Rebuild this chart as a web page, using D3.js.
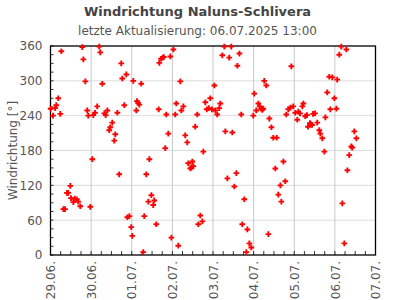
<!DOCTYPE html>
<html><head><meta charset="utf-8">
<script src="https://cdn.jsdelivr.net/npm/d3@7"></script>
<style>body{margin:0;background:#fff}svg{display:block;font-family:"DejaVu Sans",sans-serif}</style>
</head><body><svg id="c" width="395" height="300"></svg>
<script>
const title = "Windrichtung Naluns-Schlivera";
const subtitle = "letzte Aktualisierung: 06.07.2025 13:00";
const yLabel = "Windrichtung [°]";
const startDate = "2025-06-29T00:00";
const endDate = "2025-07-07T00:00";
const yTicks = [0, 60, 120, 180, 240, 300, 360];
// hours since 29.06. 00:00
const hours = [0.1,1.5,2.8,3.4,4.6,5.8,6.4,7.6,8.6,9.7,10.5,11.7,12.1,13.5,14.3,15.5,16.4,17.6,18.8,19.4,20.6,21.7,22.3,23.5,24.7,25.3,26.3,27.6,28.8,29.4,30.6,31.8,32.6,33.6,34.7,35.3,36.5,37.7,38.3,39.5,40.6,41.8,42.4,43.6,44.8,45.4,46.6,47.7,48.3,48.9,
50.7,51.1,51.7,52.5,53.6,54.8,55.4,56.6,57.8,58.4,59.6,60.7,61.3,62.5,63.9,64.3,65.3,66.3,66.9,67.8,68.4,69.6,70.8,71.4,72.6,73.7,74.3,75.5,76.7,77.3,78.5,79.6,80.8,81.4,82.6,83.2,83.8,84.4,85.5,86.7,87.3,88.5,89.7,90.3,91.5,92.3,93.5,94.4,95.4,96.8,97.4,98.5,99.7,100.3,
101.5,102.7,103.3,104.5,105.6,106.8,107.4,108.6,109.8,110.4,111.6,112.7,113.3,114.5,115.7,116.3,117.5,118.6,119.8,120.4,121.6,122.8,123.6,124.5,125.1,125.7,126.3,127.5,128.7,129.3,130.5,131.6,132.8,133.6,134.6,135.8,136.4,137.6,138.7,139.3,140.5,141.7,142.3,143.4,144.6,145.8,146.4,147.4,148.8,149.4,
150.5,151.5,152.1,153.3,153.9,154.5,155.1,156.3,157.6,158.8,159.4,160.6,161.8,162.4,163.5,164.7,165.3,166.5,167.7,168.9,169.4,170.6,171.8,172.4,173.6,174.8,175.4,176.5,177.7,178.3,179.5,180.7];
const direction = [252,240,253,258,270,243,351,79,79,107,107,119,98,91,97,96,92,84,358,337,299,249,240,83,165,241,245,256,359,349,295,244,241,249,215,220,228,197,208,245,139,330,304,258,311,65,67,48,33,300,
249,265,262,259,295,5,67,139,92,165,103,86,94,53,251,331,338,340,341,184,242,209,342,30,354,242,261,16,299,249,256,206,194,158,149,151,161,153,221,242,53,68,58,178,263,251,253,270,251,292,249,242,253,261,
344,359,213,132,340,359,211,118,141,326,347,242,53,96,5,44,20,13,240,278,249,261,256,252,250,252,300,292,36,235,220,202,149,202,104,120,92,161,127,242,251,254,325,256,245,233,247,244,256,261,
239,241,221,227,225,224,243,244,228,215,209,201,178,237,280,307,251,306,270,252,302,345,359,89,20,354,146,172,187,185,213,201];

const svg = d3.select("#c");
const m = {l:50.5, r:19.5, t:46, b:45};
const W = 395, H = 300;
const t0 = new Date(startDate);
const x = d3.scaleTime().domain([t0, new Date(endDate)]).range([m.l, W - m.r]);
const y = d3.scaleLinear().domain([0, 360]).range([H - m.b, m.t]);
const data = hours.map((h, i) => ({t: new Date(t0.getTime() + h * 3600000), v: direction[i]}));

const dayTicks = d3.timeDay.range(t0, d3.timeDay.offset(new Date(endDate), 1));
const sixTicks = d3.timeHour.every(6).range(t0, new Date(endDate));

// grid
svg.append("g").selectAll("line").data(yTicks.slice(1, -1)).join("line")
  .attr("x1", m.l).attr("x2", W - m.r).attr("y1", d => y(d)).attr("y2", d => y(d))
  .attr("stroke", "#dcdcdc").attr("stroke-width", 1);
svg.append("g").selectAll("line").data(dayTicks.slice(1, -1)).join("line")
  .attr("x1", d => x(d)).attr("x2", d => x(d)).attr("y1", m.t).attr("y2", H - m.b)
  .attr("stroke", "#c8c8c8").attr("stroke-width", 1);

// minor ticks inside
svg.append("g").selectAll("line").data(d3.range(0, 361, 15)).join("line")
  .attr("x1", m.l).attr("x2", m.l + 3).attr("y1", d => y(d)).attr("y2", d => y(d))
  .attr("stroke", "#000").attr("stroke-width", 0.8);
svg.append("g").selectAll("line").data(sixTicks).join("line")
  .attr("x1", d => x(d)).attr("x2", d => x(d)).attr("y1", H - m.b).attr("y2", H - m.b - 4)
  .attr("stroke", "#000").attr("stroke-width", 0.8);

// frame
svg.append("rect").attr("x", m.l).attr("y", m.t).attr("width", W - m.r - m.l).attr("height", H - m.b - m.t)
  .attr("fill", "none").attr("stroke", "#000").attr("stroke-width", 1.3);

// axes labels
const yAxis = d3.axisLeft(y).tickValues(yTicks).tickSize(0).tickPadding(8);
const gy = svg.append("g").attr("transform", `translate(${m.l},0)`).call(yAxis);
gy.select(".domain").remove();
gy.selectAll("text").attr("fill", "#555").attr("font-size", 12).attr("font-family", "DejaVu Sans");

const xAxis = d3.axisBottom(x).tickValues(dayTicks).tickSize(0).tickFormat(d3.timeFormat("%d.%m."));
const gx = svg.append("g").attr("transform", `translate(0,${H - m.b})`).call(xAxis);
gx.select(".domain").remove();
gx.selectAll("text").attr("fill", "#555").attr("font-size", 12).attr("font-family", "DejaVu Sans")
  .attr("text-anchor", "end").attr("dy", "0.35em")
  .attr("transform", "translate(0,6) rotate(-90)").attr("x", 0).attr("y", 0);

// titles
svg.append("text").attr("x", W / 2).attr("y", 16).attr("text-anchor", "middle")
  .attr("font-size", 13).attr("font-weight", "bold").attr("fill", "#444").text(title);
svg.append("text").attr("x", W / 2).attr("y", 35).attr("text-anchor", "middle")
  .attr("font-size", 12).attr("fill", "#555").text(subtitle);
svg.append("text").attr("transform", `translate(17,${(m.t + H - m.b) / 2}) rotate(-90)`)
  .attr("text-anchor", "middle").attr("font-size", 12).attr("fill", "#555").text(yLabel);

// points
const sym = d3.symbol().type(d3.symbolCross).size(18);
svg.append("g").selectAll("path").data(data).join("path")
  .attr("transform", d => `translate(${x(d.t)},${y(d.v)})`)
  .attr("d", sym).attr("fill", "#ff0000");
</script></body></html>
